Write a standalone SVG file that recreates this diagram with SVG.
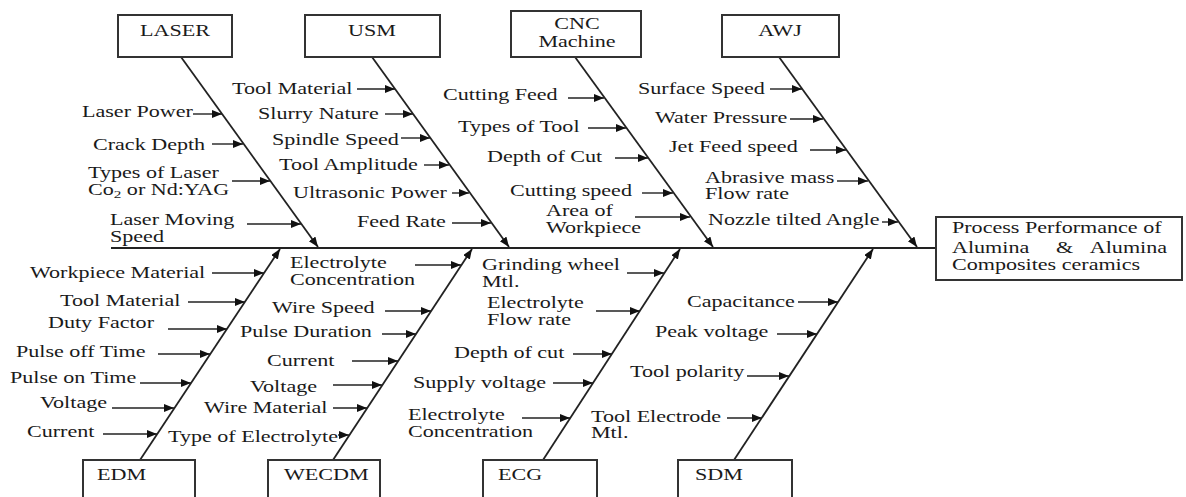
<svg xmlns="http://www.w3.org/2000/svg" width="1186" height="497" viewBox="0 0 1186 497">
<style>
.t{font-family:"Liberation Serif","Times New Roman",serif;font-size:16px;fill:#1a1a1a}
.box{fill:#fff;stroke:#333;stroke-width:2}
.bone{stroke:#222;stroke-width:1.8;fill:none}
.arr{stroke:#222;stroke-width:1.4;fill:none}
</style>
<defs>
<marker id="ah" markerUnits="userSpaceOnUse" markerWidth="12" markerHeight="10" refX="10" refY="4" orient="auto">
<path d="M0,0 L10,4 L0,8 Z" fill="#111"/>
</marker>
</defs>
<rect width="1186" height="497" fill="#fff"/>

<g id="connectors">
<line class="bone" x1="111" y1="248" x2="936" y2="248"/>
<line class="bone" x1="181" y1="57" x2="318" y2="247" marker-end="url(#ah)"/>
<line class="bone" x1="372" y1="57" x2="509" y2="247" marker-end="url(#ah)"/>
<line class="bone" x1="575" y1="57" x2="713" y2="247" marker-end="url(#ah)"/>
<line class="bone" x1="779" y1="57" x2="917" y2="247" marker-end="url(#ah)"/>
<line class="bone" x1="140" y1="460" x2="280" y2="249" marker-end="url(#ah)"/>
<line class="bone" x1="333" y1="460" x2="472" y2="249" marker-end="url(#ah)"/>
<line class="bone" x1="543" y1="460" x2="680" y2="249" marker-end="url(#ah)"/>
<line class="bone" x1="734" y1="460" x2="873" y2="249" marker-end="url(#ah)"/>
<!-- LASER -->
<line class="arr" x1="193" y1="114" x2="222" y2="114" marker-end="url(#ah)"/>
<line class="arr" x1="212" y1="144" x2="243" y2="144" marker-end="url(#ah)"/>
<line class="arr" x1="232" y1="181" x2="270" y2="181" marker-end="url(#ah)"/>
<line class="arr" x1="247" y1="224" x2="301" y2="224" marker-end="url(#ah)"/>
<!-- USM -->
<line class="arr" x1="357" y1="89" x2="395" y2="89" marker-end="url(#ah)"/>
<line class="arr" x1="385" y1="114" x2="413" y2="114" marker-end="url(#ah)"/>
<line class="arr" x1="401" y1="138" x2="430" y2="138" marker-end="url(#ah)"/>
<line class="arr" x1="424" y1="165" x2="449" y2="165" marker-end="url(#ah)"/>
<line class="arr" x1="452" y1="193" x2="469" y2="193" marker-end="url(#ah)"/>
<line class="arr" x1="452" y1="223" x2="491" y2="223" marker-end="url(#ah)"/>
<!-- CNC -->
<line class="arr" x1="568" y1="98" x2="604" y2="98" marker-end="url(#ah)"/>
<line class="arr" x1="588" y1="128" x2="626" y2="128" marker-end="url(#ah)"/>
<line class="arr" x1="615" y1="158" x2="648" y2="158" marker-end="url(#ah)"/>
<line class="arr" x1="642" y1="193" x2="673" y2="193" marker-end="url(#ah)"/>
<line class="arr" x1="635" y1="217" x2="690" y2="217" marker-end="url(#ah)"/>
<!-- AWJ -->
<line class="arr" x1="770" y1="89" x2="802" y2="89" marker-end="url(#ah)"/>
<line class="arr" x1="790" y1="119" x2="823" y2="119" marker-end="url(#ah)"/>
<line class="arr" x1="810" y1="150" x2="846" y2="150" marker-end="url(#ah)"/>
<line class="arr" x1="837" y1="181" x2="868" y2="181" marker-end="url(#ah)"/>
<line class="arr" x1="882" y1="222" x2="898" y2="222" marker-end="url(#ah)"/>
<!-- EDM -->
<line class="arr" x1="212" y1="273" x2="264" y2="273" marker-end="url(#ah)"/>
<line class="arr" x1="188" y1="302" x2="245" y2="302" marker-end="url(#ah)"/>
<line class="arr" x1="168" y1="329" x2="227" y2="329" marker-end="url(#ah)"/>
<line class="arr" x1="158" y1="354" x2="210" y2="354" marker-end="url(#ah)"/>
<line class="arr" x1="140" y1="383" x2="191" y2="383" marker-end="url(#ah)"/>
<line class="arr" x1="112" y1="408" x2="174" y2="408" marker-end="url(#ah)"/>
<line class="arr" x1="103" y1="434" x2="157" y2="434" marker-end="url(#ah)"/>
<!-- WECDM -->
<line class="arr" x1="415" y1="265" x2="461" y2="265" marker-end="url(#ah)"/>
<line class="arr" x1="385" y1="311" x2="431" y2="311" marker-end="url(#ah)"/>
<line class="arr" x1="382" y1="334" x2="416" y2="334" marker-end="url(#ah)"/>
<line class="arr" x1="352" y1="361" x2="398" y2="361" marker-end="url(#ah)"/>
<line class="arr" x1="333" y1="385" x2="382" y2="385" marker-end="url(#ah)"/>
<line class="arr" x1="333" y1="408" x2="367" y2="408" marker-end="url(#ah)"/>
<line class="arr" x1="338" y1="435" x2="349" y2="435" marker-end="url(#ah)"/>
<!-- ECG -->
<line class="arr" x1="627" y1="273" x2="664" y2="273" marker-end="url(#ah)"/>
<line class="arr" x1="596" y1="311" x2="640" y2="311" marker-end="url(#ah)"/>
<line class="arr" x1="573" y1="354" x2="612" y2="354" marker-end="url(#ah)"/>
<line class="arr" x1="553" y1="383" x2="593" y2="383" marker-end="url(#ah)"/>
<line class="arr" x1="522" y1="418" x2="570" y2="418" marker-end="url(#ah)"/>
<!-- SDM -->
<line class="arr" x1="798" y1="302" x2="838" y2="302" marker-end="url(#ah)"/>
<line class="arr" x1="777" y1="334" x2="817" y2="334" marker-end="url(#ah)"/>
<line class="arr" x1="747" y1="376" x2="789" y2="376" marker-end="url(#ah)"/>
<line class="arr" x1="727" y1="418" x2="762" y2="418" marker-end="url(#ah)"/>
</g>

<g id="laser">
<rect class="box" x="118" y="15" width="114" height="42"/>
<text class="t" text-anchor="middle" transform="translate(175,36) scale(1.38,1)">LASER</text>
<text class="t" transform="translate(82,117) scale(1.38,1)">Laser Power</text>
<text class="t" transform="translate(93,150) scale(1.38,1)">Crack Depth</text>
<text class="t" transform="translate(88,178) scale(1.38,1)">Types of Laser<tspan x="0" dy="17">Co</tspan><tspan font-size="11" dy="3">2</tspan><tspan dy="-3"> or Nd:YAG</tspan></text>
<text class="t" transform="translate(110,225) scale(1.38,1)">Laser Moving<tspan x="0" dy="17">Speed</tspan></text>
</g>

<g id="usm">
<rect class="box" x="305" y="15" width="135" height="42"/>
<text class="t" text-anchor="middle" transform="translate(372,36) scale(1.38,1)">USM</text>
<text class="t" transform="translate(232,94) scale(1.38,1)">Tool Material</text>
<text class="t" transform="translate(258,119) scale(1.38,1)">Slurry Nature</text>
<text class="t" transform="translate(272,145) scale(1.38,1)">Spindle Speed</text>
<text class="t" transform="translate(279,170) scale(1.38,1)">Tool Amplitude</text>
<text class="t" transform="translate(293,198) scale(1.38,1)">Ultrasonic Power</text>
<text class="t" transform="translate(357,227) scale(1.38,1)">Feed Rate</text>
</g>

<g id="cnc">
<rect class="box" x="511" y="11" width="130" height="46"/>
<text class="t" text-anchor="middle" transform="translate(577,29) scale(1.38,1)">CNC<tspan x="0" dy="18">Machine</tspan></text>
<text class="t" transform="translate(443,100) scale(1.38,1)">Cutting Feed</text>
<text class="t" transform="translate(458,132) scale(1.38,1)">Types of Tool</text>
<text class="t" transform="translate(487,162) scale(1.38,1)">Depth of Cut</text>
<text class="t" transform="translate(510,196) scale(1.38,1)">Cutting speed</text>
<text class="t" transform="translate(546,216) scale(1.38,1)">Area of<tspan x="0" dy="17">Workpiece</tspan></text>
</g>

<g id="awj">
<rect class="box" x="722" y="15" width="117" height="42"/>
<text class="t" text-anchor="middle" transform="translate(780,36) scale(1.38,1)">AWJ</text>
<text class="t" transform="translate(638,94) scale(1.38,1)">Surface Speed</text>
<text class="t" transform="translate(655,123) scale(1.38,1)">Water Pressure</text>
<text class="t" transform="translate(669,152) scale(1.38,1)">Jet Feed speed</text>
<text class="t" transform="translate(705,183) scale(1.38,1)">Abrasive mass<tspan x="0" dy="16">Flow rate</tspan></text>
<text class="t" transform="translate(708,225) scale(1.38,1)">Nozzle tilted Angle</text>
</g>

<g id="effect">
<rect class="box" x="936" y="217" width="246" height="63"/>
<text class="t" transform="translate(952,233) scale(1.38,1)">Process Performance of</text>
<text class="t" transform="translate(952,253) scale(1.38,1)">Alumina</text>
<text class="t" transform="translate(1056,253) scale(1.38,1)">&amp;</text>
<text class="t" text-anchor="end" transform="translate(1167,253) scale(1.38,1)">Alumina</text>
<text class="t" transform="translate(952,270) scale(1.38,1)">Composites ceramics</text>
</g>

<g id="edm">
<rect class="box" x="83" y="460" width="112" height="50"/>
<text class="t" transform="translate(97,480) scale(1.38,1)">EDM</text>
<text class="t" transform="translate(30,278) scale(1.38,1)">Workpiece Material</text>
<text class="t" transform="translate(60,306) scale(1.38,1)">Tool Material</text>
<text class="t" transform="translate(48,328) scale(1.38,1)">Duty Factor</text>
<text class="t" transform="translate(16,357) scale(1.38,1)">Pulse off Time</text>
<text class="t" transform="translate(10,383) scale(1.38,1)">Pulse on Time</text>
<text class="t" transform="translate(40,408) scale(1.38,1)">Voltage</text>
<text class="t" transform="translate(27,437) scale(1.38,1)">Current</text>
</g>

<g id="wecdm">
<rect class="box" x="268" y="460" width="112" height="50"/>
<text class="t" transform="translate(284,480) scale(1.38,1)">WECDM</text>
<text class="t" transform="translate(290,268) scale(1.38,1)">Electrolyte<tspan x="0" dy="17">Concentration</tspan></text>
<text class="t" transform="translate(272,313) scale(1.38,1)">Wire Speed</text>
<text class="t" transform="translate(240,337) scale(1.38,1)">Pulse Duration</text>
<text class="t" transform="translate(267,366) scale(1.38,1)">Current</text>
<text class="t" transform="translate(250,392) scale(1.38,1)">Voltage</text>
<text class="t" transform="translate(204,413) scale(1.38,1)">Wire Material</text>
<text class="t" transform="translate(168,442) scale(1.38,1)">Type of Electrolyte</text>
</g>

<g id="ecg">
<rect class="box" x="483" y="460" width="114" height="50"/>
<text class="t" transform="translate(498,480) scale(1.38,1)">ECG</text>
<text class="t" transform="translate(482,270) scale(1.38,1)">Grinding wheel<tspan x="0" dy="17">Mtl.</tspan></text>
<text class="t" transform="translate(487,308) scale(1.38,1)">Electrolyte<tspan x="0" dy="17">Flow rate</tspan></text>
<text class="t" transform="translate(454,358) scale(1.38,1)">Depth of cut</text>
<text class="t" transform="translate(413,388) scale(1.38,1)">Supply voltage</text>
<text class="t" transform="translate(408,420) scale(1.38,1)">Electrolyte<tspan x="0" dy="17">Concentration</tspan></text>
</g>

<g id="sdm">
<rect class="box" x="678" y="460" width="114" height="50"/>
<text class="t" transform="translate(695,480) scale(1.38,1)">SDM</text>
<text class="t" transform="translate(687,307) scale(1.38,1)">Capacitance</text>
<text class="t" transform="translate(655,337) scale(1.38,1)">Peak voltage</text>
<text class="t" transform="translate(630,377) scale(1.38,1)">Tool polarity</text>
<text class="t" transform="translate(591,422) scale(1.38,1)">Tool Electrode<tspan x="0" dy="16">Mtl.</tspan></text>
</g>
</svg>
